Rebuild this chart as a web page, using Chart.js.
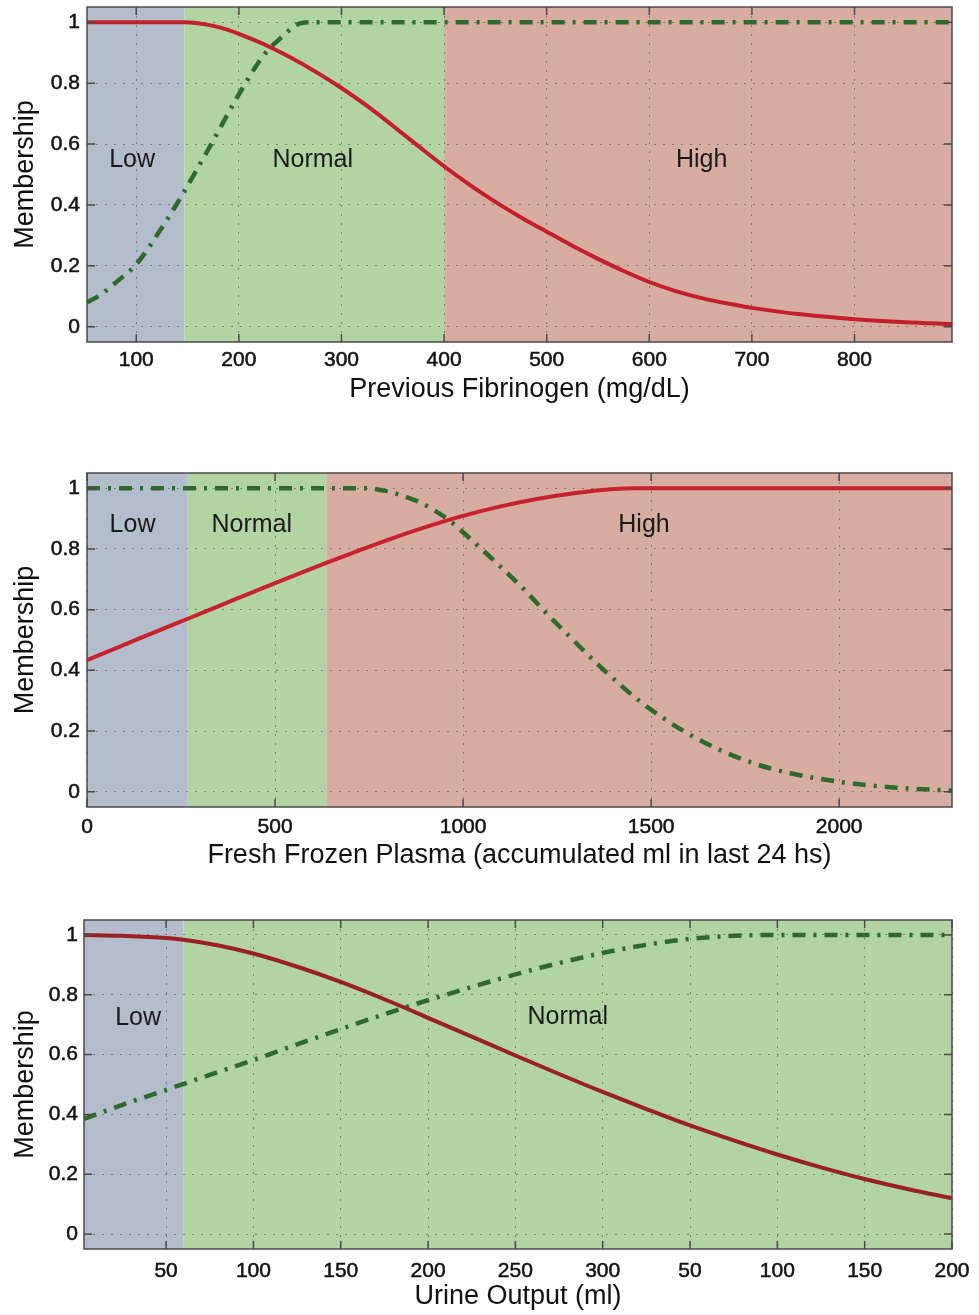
<!DOCTYPE html>
<html>
<head>
<meta charset="utf-8">
<script src="https://cdn.jsdelivr.net/npm/chart.js@4.4.1/dist/chart.umd.min.js"></script>
<style>
html, body { margin: 0; padding: 0; background: #ffffff; }
.wrap { position: absolute; left: 0; width: 979px; }
canvas { display: block; }
</style>
</head>
<body>
<div class="wrap" style="top:0px;height:410px"><canvas id="c1" width="979" height="410"></canvas></div>
<div class="wrap" style="top:410px;height:465px"><canvas id="c2" width="979" height="465"></canvas></div>
<div class="wrap" style="top:875px;height:440px"><canvas id="c3" width="979" height="440"></canvas></div>
<script>
// ---------- shared ----------
const yTicks = [0, 0.2, 0.4, 0.6, 0.8, 1];
const yTickLabels = ['0', '0.2', '0.4', '0.6', '0.8', '1'];
const yTitle = 'Membership';

// ---------- chart 1: Previous Fibrinogen ----------
const fibTitle = 'Previous Fibrinogen (mg/dL)';
const fibRegionNames = ['Low', 'Normal', 'High'];
const fibRegionBounds = [52, 147, 400, 895];
const fibLabelX = [96, 272, 651];
const fibLabelY = [0.547, 0.547, 0.547];
const fibXTicks = [100, 200, 300, 400, 500, 600, 700, 800];
const fibXTickLabels = ['100', '200', '300', '400', '500', '600', '700', '800'];
const fibRedX = [52, 100, 147, 160, 175, 190, 200, 225, 250, 275, 300, 325, 350, 375, 400, 425, 450, 475, 500, 525, 550, 575, 600, 625, 650, 675, 700, 750, 800, 850, 895];
const fibRedY = [1, 1, 1, 0.997, 0.988, 0.974, 0.962, 0.927, 0.885, 0.837, 0.784, 0.725, 0.66, 0.593, 0.527, 0.466, 0.41, 0.359, 0.312, 0.266, 0.223, 0.183, 0.147, 0.118, 0.095, 0.077, 0.062, 0.04, 0.025, 0.015, 0.009];
const fibGreenX = [52, 65, 80, 100, 122, 143, 173, 200, 225, 244, 255, 264, 272, 895];
const fibGreenY = [0.08, 0.105, 0.145, 0.205, 0.31, 0.423, 0.599, 0.763, 0.895, 0.958, 0.99, 0.999, 1, 1];

// ---------- chart 2: Fresh Frozen Plasma ----------
const ffpTitle = 'Fresh Frozen Plasma (accumulated ml in last 24 hs)';
const ffpRegionNames = ['Low', 'Normal', 'High'];
const ffpRegionBounds = [0, 268, 636, 2300];
const ffpLabelX = [121, 438, 1481];
const ffpLabelY = [0.878, 0.878, 0.878];
const ffpXTicks = [0, 500, 1000, 1500, 2000];
const ffpXTickLabels = ['0', '500', '1000', '1500', '2000'];
const ffpRedX = [0, 100, 200, 268, 400, 500, 636, 700, 800, 900, 1000, 1100, 1200, 1300, 1400, 1460, 2300];
const ffpRedY = [0.434, 0.485, 0.536, 0.57, 0.637, 0.687, 0.754, 0.784, 0.83, 0.872, 0.909, 0.94, 0.965, 0.984, 0.997, 1, 1];
const ffpGreenX = [0, 740, 790, 840, 887, 922, 962, 1038, 1100, 1161, 1224, 1286, 1348, 1411, 1473, 1526, 1603, 1692, 1782, 1870, 2000, 2135, 2300];
const ffpGreenY = [1, 1, 0.992, 0.975, 0.952, 0.928, 0.895, 0.812, 0.741, 0.668, 0.585, 0.508, 0.432, 0.36, 0.295, 0.248, 0.188, 0.133, 0.09, 0.061, 0.033, 0.015, 0.004];

// ---------- chart 3: Urine Output ----------
const urineTitle = 'Urine Output (ml)';
const urineRegionNames = ['Low', 'Normal'];
const urineRegionBounds = [3, 60, 500];
const urineLabelX = [34, 280];
const urineLabelY = [0.722, 0.725];
const urineXTicks = [50, 100, 150, 200, 250, 300, 350, 400, 450, 500];
const urineXTickLabels = ['50', '100', '150', '200', '250', '300', '50', '100', '150', '200'];
const urineRedX = [3, 25, 50, 60, 80, 100, 126, 150, 175, 200, 225, 250, 275, 300, 325, 350, 375, 400, 425, 450, 475, 500];
const urineRedY = [1, 0.997, 0.99, 0.984, 0.965, 0.938, 0.892, 0.843, 0.785, 0.723, 0.66, 0.597, 0.535, 0.475, 0.418, 0.363, 0.313, 0.266, 0.223, 0.184, 0.15, 0.12];
const urineGreenX = [3, 25, 50, 75, 100, 125, 150, 175, 200, 225, 250, 275, 300, 325, 350, 375, 400, 500];
const urineGreenY = [0.385, 0.432, 0.482, 0.532, 0.582, 0.634, 0.685, 0.735, 0.782, 0.826, 0.868, 0.906, 0.94, 0.967, 0.987, 0.997, 1, 1];

// ---------- styles ----------
const bandColors = ['#b4bdcb', '#b1d4a2', '#d8ada1'];
const fontFamily = '"Liberation Sans", Arial, Helvetica, sans-serif';
const textColor = '#111111';
const tickFont = { family: fontFamily, size: 21 };
const titleFont = { family: fontFamily, size: 27 };
const gridColor = 'rgba(80,80,80,0.6)';
const greenColor = '#2e6a2b';

const pts = (xs, ys) => xs.map((x, i) => ({ x: x, y: ys[i] }));

const bandsPlugin = {
  id: 'bands',
  beforeDraw(chart, args, opts) {
    const { ctx, chartArea: a, scales: { x } } = chart;
    ctx.save();
    for (let i = 0; i < opts.bounds.length - 1; i++) {
      const x0 = x.getPixelForValue(opts.bounds[i]);
      const x1 = x.getPixelForValue(opts.bounds[i + 1]);
      ctx.fillStyle = bandColors[i];
      ctx.fillRect(x0, a.top, x1 - x0, a.bottom - a.top);
    }
    ctx.restore();
  },
  beforeDatasetsDraw(chart, args, opts) {
    const { ctx, scales: { x, y } } = chart;
    ctx.save();
    ctx.font = '25px ' + fontFamily;
    ctx.fillStyle = '#1a1a1a';
    ctx.textAlign = 'center';
    ctx.textBaseline = 'middle';
    opts.names.forEach((n, i) => {
      ctx.fillText(n, x.getPixelForValue(opts.labelX[i]), y.getPixelForValue(opts.labelY[i]));
    });
    ctx.restore();
  },
  afterDraw(chart) {
    const { ctx, chartArea: a, scales: { x, y } } = chart;
    ctx.save();
    ctx.strokeStyle = '#4a4a4a';
    ctx.lineWidth = 1.5;
    ctx.beginPath();
    x.ticks.forEach(t => {
      const px = x.getPixelForValue(t.value);
      ctx.moveTo(px, a.bottom); ctx.lineTo(px, a.bottom - 8);
      ctx.moveTo(px, a.top); ctx.lineTo(px, a.top + 8);
    });
    y.ticks.forEach(t => {
      const py = y.getPixelForValue(t.value);
      ctx.moveTo(a.left, py); ctx.lineTo(a.left + 8, py);
      ctx.moveTo(a.right, py); ctx.lineTo(a.right - 8, py);
    });
    ctx.stroke();
    ctx.strokeRect(a.left, a.top, a.right - a.left, a.bottom - a.top);
    ctx.restore();
  }
};

function makeChart(id, c) {
  return new Chart(document.getElementById(id), {
    type: 'line',
    data: {
      datasets: [
        { data: pts(c.redX, c.redY), borderColor: c.red, borderWidth: 4, pointRadius: 0, fill: false, cubicInterpolationMode: 'monotone' },
        { data: pts(c.greenX, c.greenY), borderColor: greenColor, borderWidth: 4.5, pointRadius: 0, fill: false, cubicInterpolationMode: 'monotone', borderDash: [13, 8, 3, 8] }
      ]
    },
    options: {
      responsive: false,
      animation: false,
      events: [],
      layout: { padding: { top: c.padTop, right: 27, left: 0, bottom: 0 } },
      plugins: {
        legend: { display: false },
        tooltip: { enabled: false },
        bands: { bounds: c.bounds, names: c.names, labelX: c.labelX, labelY: c.labelY }
      },
      scales: {
        x: {
          type: 'linear', min: c.xMin, max: c.xMax,
          afterBuildTicks: s => { s.ticks = c.xTicks.map(v => ({ value: v })); },
          afterFit: s => { s.height = c.xHeight; s.paddingLeft = 0; s.paddingRight = 0; },
          ticks: { callback: (v, i) => c.xLabels[i], padding: c.xTickPad, font: tickFont, color: textColor, maxRotation: 0, autoSkip: false, textStrokeColor: textColor, textStrokeWidth: 0.5 },
          grid: { color: gridColor, lineWidth: 1, drawTicks: false },
          border: { display: false, dash: [2, 7] },
          title: { display: true, text: c.xTitle, font: titleFont, color: textColor, padding: { top: 0, bottom: c.xTitlePad } }
        },
        y: {
          type: 'linear', min: -0.05, max: 1.05,
          afterBuildTicks: s => { s.ticks = yTicks.map(v => ({ value: v })); },
          afterFit: s => { s.width = c.yWidth; s.paddingTop = 0; s.paddingBottom = 0; },
          ticks: { callback: (v, i) => yTickLabels[i], padding: c.yTickPad, font: tickFont, color: textColor, autoSkip: false, textStrokeColor: textColor, textStrokeWidth: 0.5 },
          grid: { color: gridColor, lineWidth: 1, drawTicks: false },
          border: { display: false, dash: [2, 7] },
          title: { display: true, text: yTitle, font: titleFont, color: textColor, padding: { top: 9, bottom: 0 } }
        }
      }
    },
    plugins: [bandsPlugin]
  });
}

makeChart('c1', {
  redX: fibRedX, redY: fibRedY, greenX: fibGreenX, greenY: fibGreenY, red: '#c3202b',
  bounds: fibRegionBounds, names: fibRegionNames, labelX: fibLabelX, labelY: fibLabelY,
  xMin: 52, xMax: 895, xTicks: fibXTicks, xLabels: fibXTickLabels, xTitle: fibTitle,
  padTop: 7, xHeight: 68, xTickPad: 5.5, xTitlePad: 4.4, yWidth: 87, yTickPad: 7
});
makeChart('c2', {
  redX: ffpRedX, redY: ffpRedY, greenX: ffpGreenX, greenY: ffpGreenY, red: '#c8222e',
  bounds: ffpRegionBounds, names: ffpRegionNames, labelX: ffpLabelX, labelY: ffpLabelY,
  xMin: 0, xMax: 2300, xTicks: ffpXTicks, xLabels: ffpXTickLabels, xTitle: ffpTitle,
  padTop: 63, xHeight: 68, xTickPad: 7.9, xTitlePad: 3.4, yWidth: 87, yTickPad: 7
});
makeChart('c3', {
  redX: urineRedX, redY: urineRedY, greenX: urineGreenX, greenY: urineGreenY, red: '#9a2024',
  bounds: urineRegionBounds, names: urineRegionNames, labelX: urineLabelX, labelY: urineLabelY,
  xMin: 3, xMax: 500, xTicks: urineXTicks, xLabels: urineXTickLabels, xTitle: urineTitle,
  padTop: 45, xHeight: 66, xTickPad: 9.2, xTitlePad: 2.4, yWidth: 84, yTickPad: 6
});
</script>
</body>
</html>
